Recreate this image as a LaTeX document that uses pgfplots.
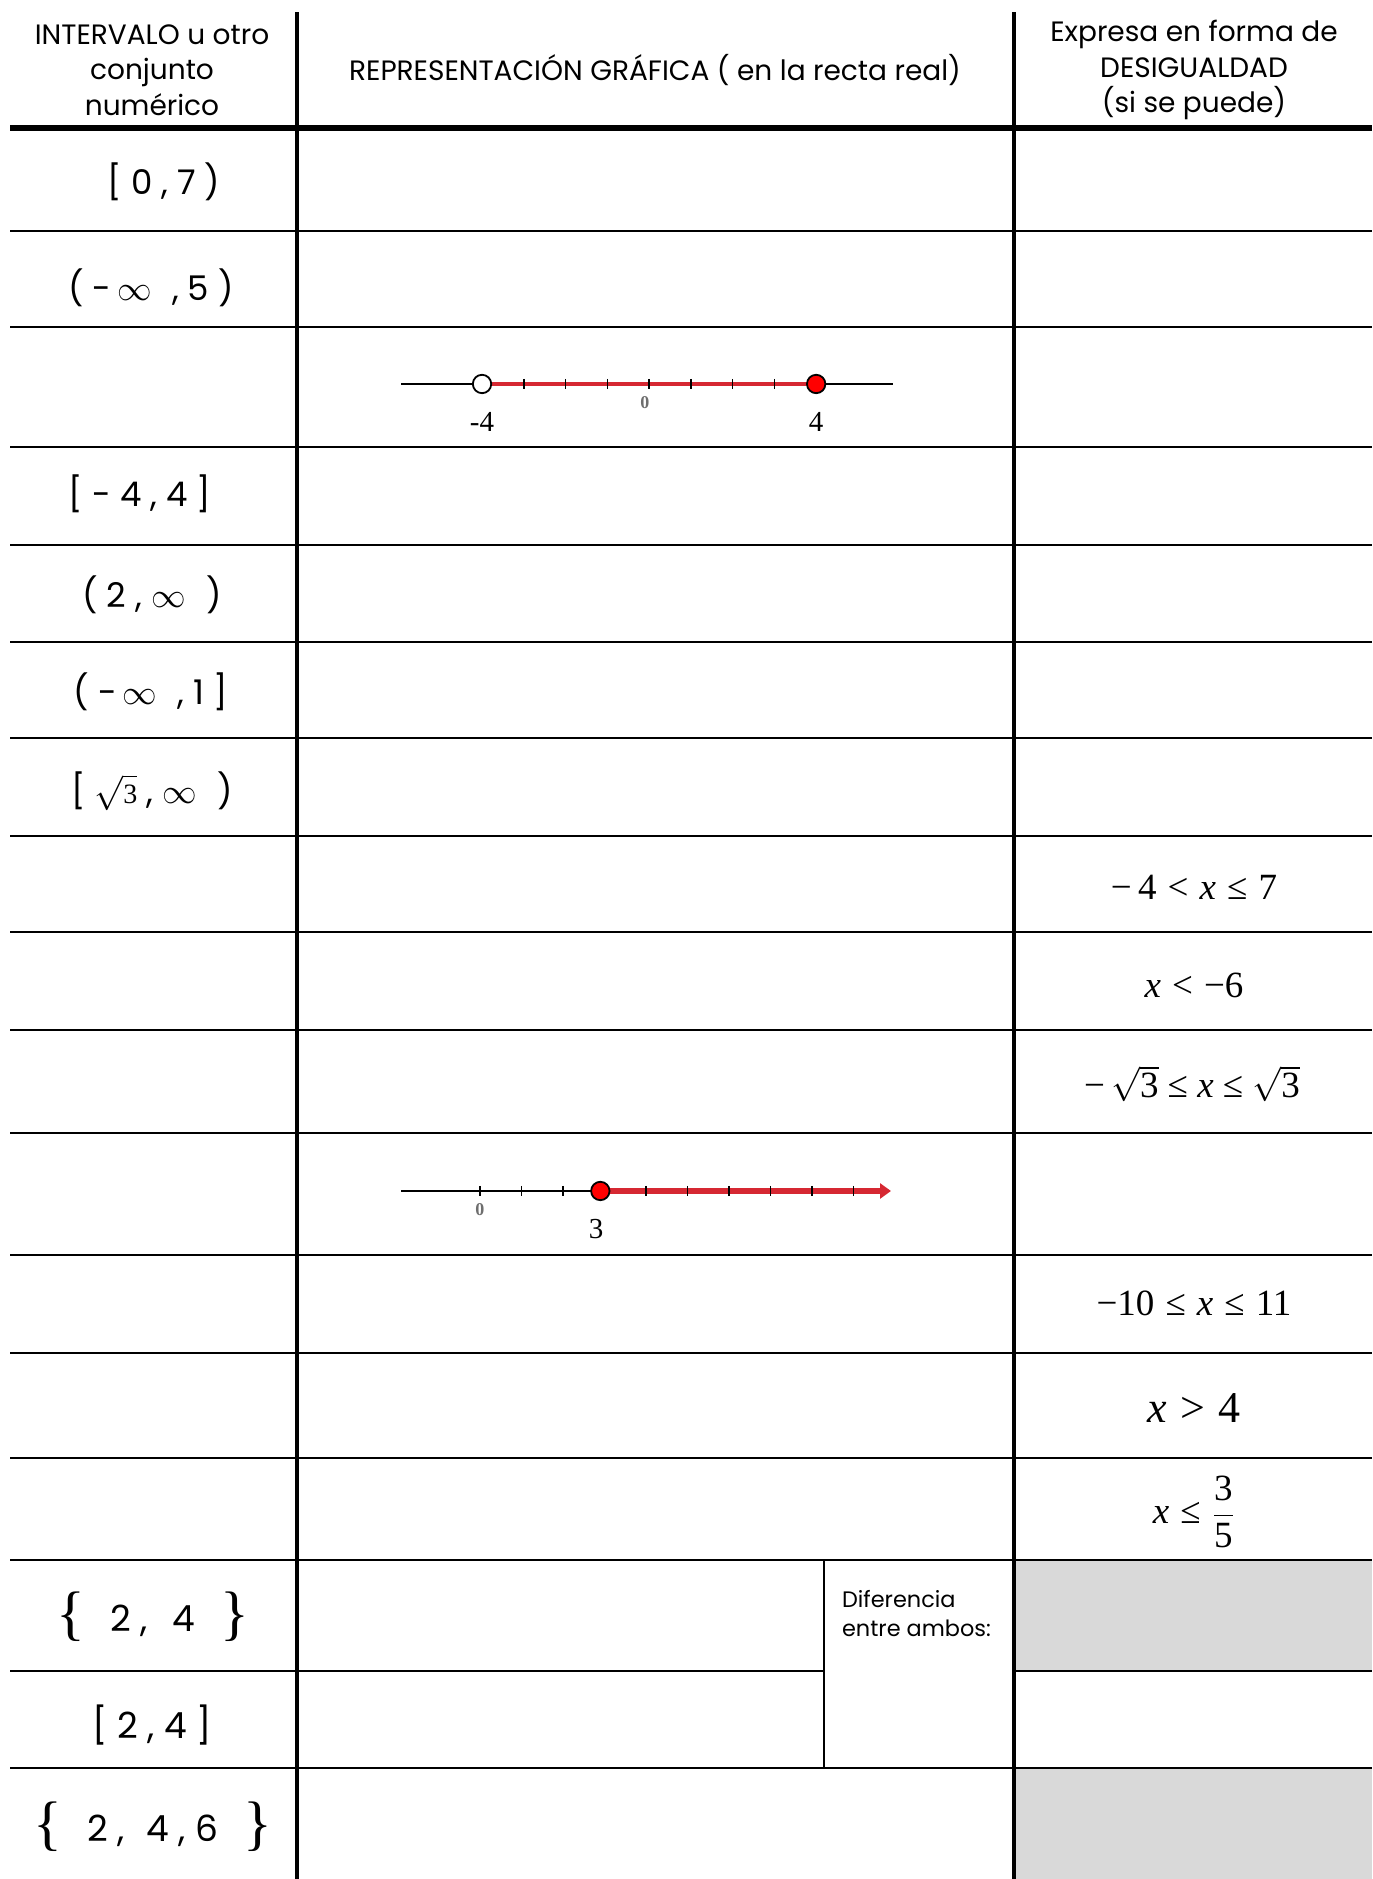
\documentclass[border=0pt]{standalone}
\usepackage{fontspec}
\setmainfont{Poppins}
\newfontfamily\tnr{Liberation Serif}
\usepackage{pgfplots}
\pgfplotsset{compat=1.18}
\usetikzlibrary{arrows.meta}
\definecolor{redline}{RGB}{214,40,50}
\definecolor{cellgray}{RGB}{217,217,217}
\definecolor{lblgray}{RGB}{110,110,110}
\newcommand{\rel}[1]{\hspace{0.3em}#1\hspace{0.3em}}
\newcommand{\bigbrace}[1]{{\tnr\fontsize{30}{30}\selectfont\raisebox{-1.2pt}{#1}}}
\begin{document}
\begin{tikzpicture}
\useasboundingbox (0,0) rectangle (686pt,939.5pt);
% ---------------- table grid (pixel coordinates) ----------------
\begin{axis}[at={(0pt,0pt)}, anchor=south west, width=686pt, height=939.5pt,
  scale only axis, xmin=0, xmax=1372, ymin=0, ymax=1879, y dir=reverse,
  hide axis, clip=false]
% grey cells
\addplot[fill=cellgray, draw=none] coordinates {(1014,1560) (1372,1560) (1372,1671) (1014,1671)} -- cycle;
\addplot[fill=cellgray, draw=none] coordinates {(1014,1768) (1372,1768) (1372,1879) (1014,1879)} -- cycle;
% vertical rules
\addplot[black, line width=1.6pt] coordinates {(297,12) (297,1879)};
\addplot[black, line width=1.6pt] coordinates {(1014,12) (1014,1879)};
\addplot[black, line width=1.4pt] coordinates {(824,1560) (824,1768)};
% header rule
\addplot[black, line width=2.8pt] coordinates {(10,128) (1372,128)};
% row rules
\foreach \yy in {231,327,447,545,642,738,836,932,1030,1133,1255,1353,1458,1560,1768}{
  \edef\temp{\noexpand\addplot[black, line width=1.2pt] coordinates {(10,\yy) (1372,\yy)};}
  \temp
}
\addplot[black, line width=1.2pt] coordinates {(10,1671) (824,1671)};
\addplot[black, line width=1.2pt] coordinates {(1014,1671) (1372,1671)};
% header texts
\node[font=\fontsize{14}{17.75}\selectfont, align=center] at (axis cs:152,70) {INTERVALO u otro\\conjunto\\numérico};
\node[font=\fontsize{14}{17.75}\selectfont] at (axis cs:655,70) {REPRESENTACIÓN GRÁFICA ( en la recta real)};
\node[font=\fontsize{14}{17.75}\selectfont, align=center] at (axis cs:1194,70) {Expresa en forma de\\DESIGUALDAD\\(si se puede)};
% left column
\node[font=\fontsize{17}{19}\selectfont] at (axis cs:164,182) {[ 0 , 7 )};
\node[font=\fontsize{17}{19}\selectfont] at (axis cs:151,288) {( -\,$\infty$\,\, , 5 )};
\node[font=\fontsize{17}{19}\selectfont] at (axis cs:140,494) {[ - 4 , 4 ]};
\node[font=\fontsize{17}{19}\selectfont] at (axis cs:152,595) {( 2 , $\infty$\,\, )};
\node[font=\fontsize{17}{19}\selectfont] at (axis cs:151,692) {( -\,$\infty$\,\, , 1 ]};
\node[font=\fontsize{17}{19}\selectfont] at (axis cs:152,791) {[ $\sqrt{\hbox{\tnr\fontsize{14}{14}\selectfont 3}}$ , $\infty$\,\, )};
\node[font=\fontsize{18}{20}\selectfont] at (axis cs:153,1617) {\bigbrace\{\hspace{0.7em}2 ,\hspace{0.7em}4\hspace{0.7em}\bigbrace\}};
\node[font=\fontsize{18}{20}\selectfont] at (axis cs:152,1725) {[ 2 , 4 ]};
\node[font=\fontsize{18}{20}\selectfont] at (axis cs:153,1827) {\bigbrace\{\hspace{0.7em}2 ,\hspace{0.6em}4 , 6\hspace{0.7em}\bigbrace\}};
\node[font=\fontsize{11.2}{14.5}\selectfont, align=left, anchor=west] at (axis cs:835,1614) {Diferencia\\entre ambos:};
% right column
\node[font=\tnr\fontsize{18.5}{20}\selectfont] at (axis cs:1194,887) {−\,4\rel{<}\textit{x}\rel{≤}7};
\node[font=\tnr\fontsize{18.5}{20}\selectfont] at (axis cs:1194,985) {\textit{x}\rel{<}−6};
\node[font=\tnr\fontsize{18.5}{20}\selectfont] at (axis cs:1192,1084) {−\,$\sqrt{\hbox{3}}$\hspace{0.25em}≤\hspace{0.25em}\textit{x}\hspace{0.25em}≤\hspace{0.25em}$\sqrt{\hbox{3}}$};
\node[font=\tnr\fontsize{18.5}{20}\selectfont] at (axis cs:1194,1303) {−10\rel{≤}\textit{x}\rel{≤}11};
\node[font=\tnr\fontsize{22}{24}\selectfont] at (axis cs:1194,1408) {\textit{x}\rel{>}4};
\node[font=\tnr\fontsize{18.5}{20}\selectfont] at (axis cs:1194,1512) {\textit{x}\rel{≤}$\displaystyle\frac{\hbox{3}}{\hbox{5}}$};
\end{axis}
% ---------------- number line 1: (-4, 4] ----------------
\begin{axis}[at={(200.5pt,742.5pt)}, anchor=south west, width=246pt, height=10pt,
  scale only axis, xmin=-5.94, xmax=5.84, ymin=-1, ymax=1, hide axis, clip=false]
\addplot[black, line width=0.7pt] coordinates {(-5.94,0) (5.84,0)};
\addplot[redline, line width=2.2pt] coordinates {(-4,0) (4,0)};
\addplot[black, only marks, mark=|, mark size=2.6pt, mark options={line width=0.7pt}] coordinates {(-3,0) (-2,0) (-1,0) (0,0) (1,0) (2,0) (3,0)};
\addplot[only marks, mark=*, mark size=4.6pt, mark options={fill=white, draw=black, line width=0.9pt}] coordinates {(-4,0)};
\addplot[only marks, mark=*, mark size=4.6pt, mark options={fill=red, draw=black, line width=0.9pt}] coordinates {(4,0)};
\node[font=\tnr\fontsize{14.5}{15}\selectfont] at (axis cs:-4,-3.8) {-4};
\node[font=\tnr\fontsize{14.5}{15}\selectfont] at (axis cs:4,-3.8) {4};
\node[font=\tnr\bfseries\fontsize{9}{10}\selectfont, text=lblgray] at (axis cs:-0.1,-1.9) {0};
\end{axis}
% ---------------- number line 2: [3, inf) ----------------
\begin{axis}[at={(200.5pt,339pt)}, anchor=south west, width=245pt, height=10pt,
  scale only axis, xmin=-1.9, xmax=9.9, ymin=-1, ymax=1, hide axis, clip=false]
\addplot[black, line width=0.7pt] coordinates {(-1.9,0) (3,0)};
\addplot[redline, line width=3.2pt, -{Triangle[length=5.5pt,width=7.5pt]}] coordinates {(3,0) (9.9,0)};
\addplot[black, only marks, mark=|, mark size=2.6pt, mark options={line width=0.7pt}] coordinates {(0,0) (1,0) (2,0) (4,0) (5,0) (6,0) (7,0) (8,0) (9,0)};
\addplot[only marks, mark=*, mark size=4.6pt, mark options={fill=red, draw=black, line width=0.9pt}] coordinates {(2.9,0)};
\node[font=\tnr\bfseries\fontsize{9}{10}\selectfont, text=lblgray] at (axis cs:0,-1.9) {0};
\node[font=\tnr\fontsize{14.5}{15}\selectfont] at (axis cs:2.8,-3.8) {3};
\end{axis}
\end{tikzpicture}
\end{document}
